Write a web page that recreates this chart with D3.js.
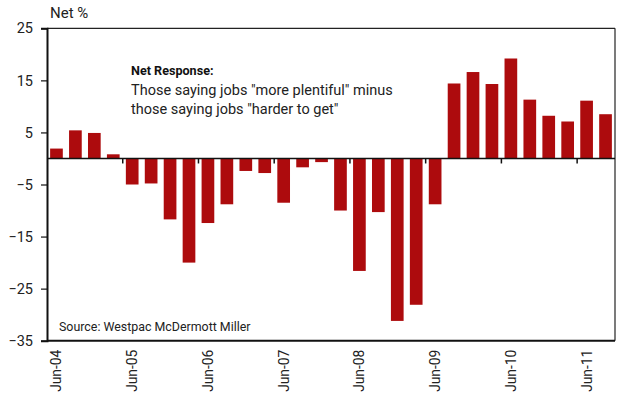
<!DOCTYPE html>
<html><head><meta charset="utf-8">
<script src="https://cdn.jsdelivr.net/npm/d3@7/dist/d3.min.js"></script>
<style>body{margin:0;background:#fff;} text{font-family:Roboto, "Liberation Sans", sans-serif;}</style>
</head><body><svg id="c" width="619" height="398"></svg>
<script>
const categories = ["Jun-04","Sep-04","Dec-04","Mar-05","Jun-05","Sep-05","Dec-05","Mar-06","Jun-06","Sep-06","Dec-06","Mar-07","Jun-07","Sep-07","Dec-07","Mar-08","Jun-08","Sep-08","Dec-08","Mar-09","Jun-09","Sep-09","Dec-09","Mar-10","Jun-10","Sep-10","Dec-10","Mar-11","Jun-11","Sep-11"];
const netResponse = [1.9,5.4,4.9,0.8,-5.0,-4.8,-11.7,-20.0,-12.4,-8.8,-2.4,-2.8,-8.5,-1.7,-0.7,-10.0,-21.6,-10.3,-31.2,-28.1,-8.8,14.4,16.6,14.3,19.2,11.3,8.2,7.1,11.1,8.5];
const yTicks = [25,15,5,-5,-15,-25,-35];
const xLabels = ["Jun-04","Jun-05","Jun-06","Jun-07","Jun-08","Jun-09","Jun-10","Jun-11"];

const L=47, R=615, T=28.3, B=340.7;
const svg = d3.select("#c");
const x = d3.scaleBand().domain(categories).range([L,R]).paddingInner(0.33).paddingOuter(0.165);
const xb = d3.scaleBand().domain(categories).range([L,R]);
const y = d3.scaleLinear().domain([-35,25]).range([B,T]);

// frame
svg.append("line").attr("x1",L).attr("x2",R).attr("y1",T).attr("y2",T).attr("stroke","#222").attr("stroke-width",1.2);
svg.append("line").attr("x1",R).attr("x2",R).attr("y1",T).attr("y2",B).attr("stroke","#222").attr("stroke-width",1.2);
svg.append("line").attr("x1",L).attr("x2",R).attr("y1",B).attr("y2",B).attr("stroke","#111").attr("stroke-width",2);

// bars
svg.append("g").selectAll("rect").data(netResponse).join("rect")
  .attr("x",(d,i)=>x(categories[i]))
  .attr("width",x.bandwidth())
  .attr("y",d=>y(Math.max(0,d)))
  .attr("height",d=>Math.abs(y(d)-y(0)))
  .attr("fill","#ad0b0d");

// zero line
svg.append("line").attr("x1",L).attr("x2",R).attr("y1",y(0)).attr("y2",y(0)).attr("stroke","#111").attr("stroke-width",1.5);
// x ticks at category boundaries every 4
svg.append("g").selectAll("line").data(xLabels.slice(1)).join("line")
  .attr("x1",d=>xb(d)).attr("x2",d=>xb(d)).attr("y1",y(0)).attr("y2",y(0)+5)
  .attr("stroke","#111").attr("stroke-width",1.5);

// y axis
const ya = svg.append("g").attr("transform",`translate(${L},0)`)
  .call(d3.axisLeft(y).tickValues(yTicks).tickSize(6).tickPadding(8).tickFormat(d3.format("d")));
ya.select(".domain").attr("stroke","#111").attr("stroke-width",2);
ya.selectAll(".tick line").attr("stroke","#111").attr("stroke-width",1.2);
ya.selectAll(".tick text").attr("font-size",14.5).attr("fill","#222").style("font-family","Roboto, sans-serif");

// x labels
svg.append("g").selectAll("text").data(xLabels).join("text")
  .attr("transform",d=>`translate(${xb(d)+xb.bandwidth()/2+5},${B+9}) rotate(-90)`)
  .attr("text-anchor","end").attr("font-size",13.8).attr("fill","#222").text(d=>d);

svg.append("text").attr("x",50).attr("y",18).attr("font-size",15).attr("fill","#222").text("Net %");
svg.append("text").attr("x",131).attr("y",75).attr("font-size",12.6).attr("font-weight","bold").attr("fill","#111").text("Net Response:");
svg.append("text").attr("x",131).attr("y",95).attr("font-size",14.5).attr("fill","#222").text('Those saying jobs "more plentiful" minus');
svg.append("text").attr("x",131).attr("y",114).attr("font-size",14.5).attr("fill","#222").text('those saying jobs "harder to get"');
svg.append("text").attr("x",59).attr("y",331).attr("font-size",12.4).attr("fill","#222").text("Source: Westpac McDermott Miller");
</script></body></html>
